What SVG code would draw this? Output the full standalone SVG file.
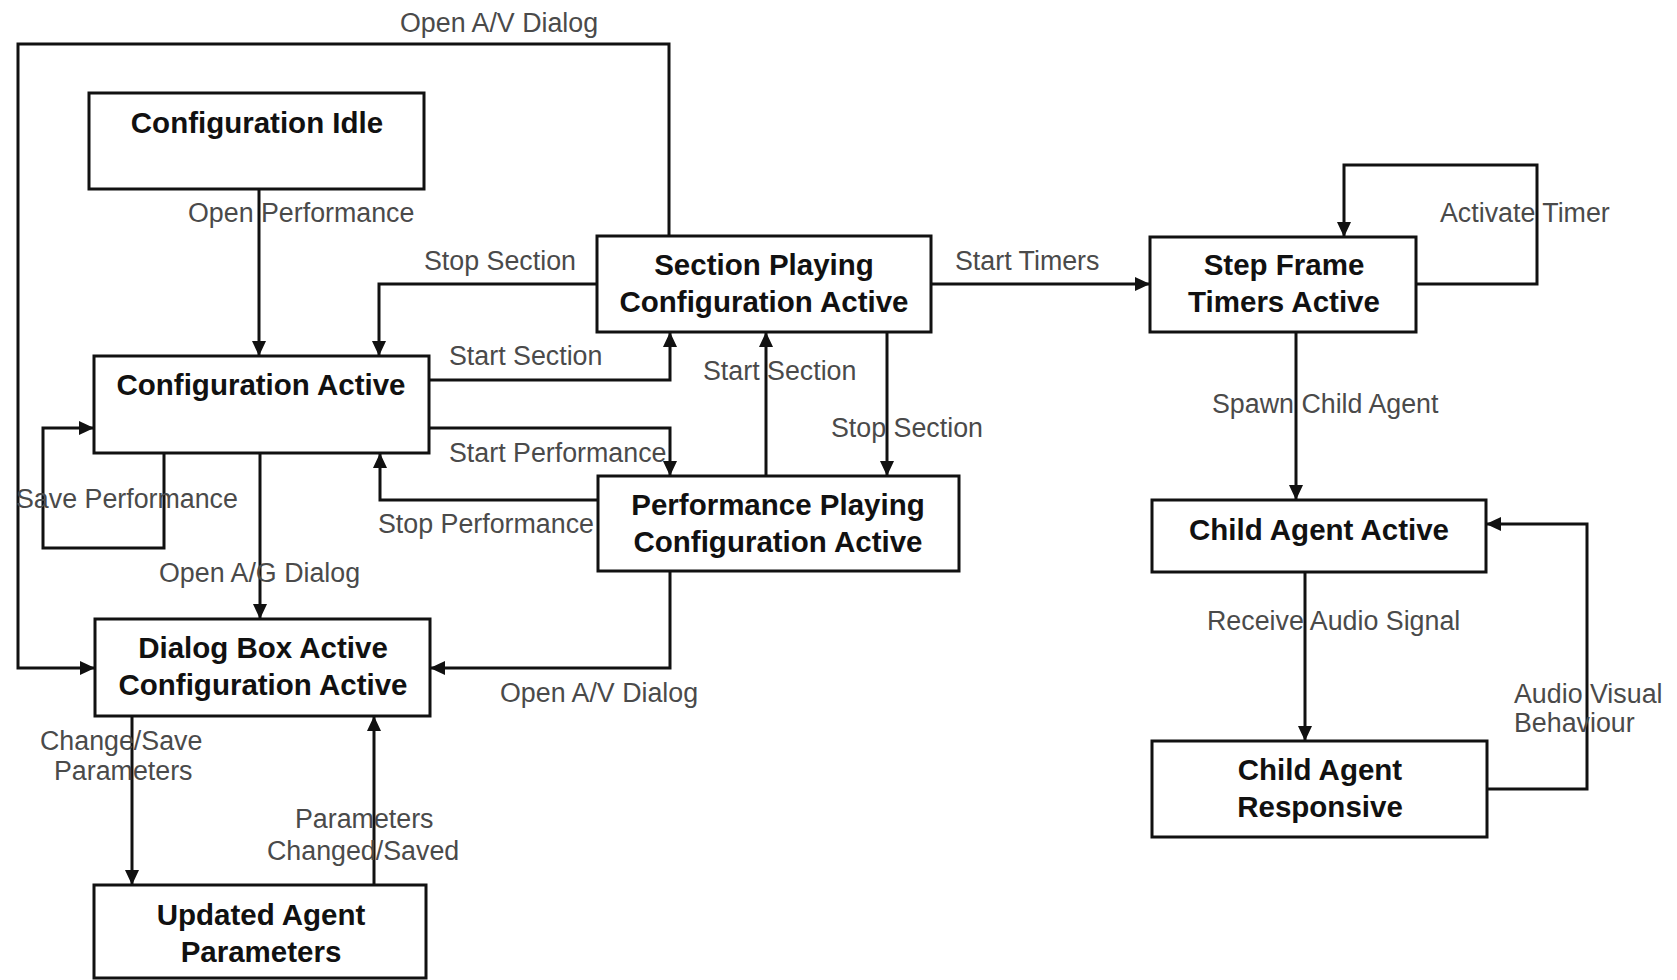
<svg xmlns="http://www.w3.org/2000/svg" width="1677" height="980" viewBox="0 0 1677 980">
<style>
.box{fill:#fff;stroke:#111;stroke-width:3}
.nt{font-family:"Liberation Sans",Arial,sans-serif;font-weight:bold;font-size:29.5px;fill:#111;text-anchor:middle}
.ln{fill:none;stroke:#111;stroke-width:3;marker-end:url(#ah)}
.lb{font-family:"Liberation Sans",Arial,sans-serif;font-size:26.8px;fill:#4a4a4a}
</style>
<defs>
<marker id="ah" markerUnits="userSpaceOnUse" markerWidth="16" markerHeight="14" refX="15" refY="7" orient="auto">
<path d="M0,0 L15,7 L0,14 z" fill="#111"/>
</marker>
</defs>
<rect width="1677" height="980" fill="#fff"/>
<g id="connectors">
<path class="ln" d="M259,189 V356"/>
<path class="ln" d="M597,284 H379 V356"/>
<path class="ln" d="M429,380 H670 V332"/>
<path class="ln" d="M429,428 H670 V476"/>
<path class="ln" d="M598,500 H380 V453"/>
<path class="ln" d="M164,453 V548 H43 V428 H94"/>
<path class="ln" d="M260,453 V619"/>
<path class="ln" d="M669,236 V44 H18 V668 H95"/>
<path class="ln" d="M670,571 V668 H430"/>
<path class="ln" d="M766,476 V332"/>
<path class="ln" d="M887,332 V476"/>
<path class="ln" d="M132,716 V885"/>
<path class="ln" d="M374,885 V716"/>
<path class="ln" d="M931,284 H1150"/>
<path class="ln" d="M1416,284 H1537 V165 H1344 V237"/>
<path class="ln" d="M1296,332 V500"/>
<path class="ln" d="M1305,572 V741"/>
<path class="ln" d="M1487,789 H1587 V524 H1486"/>
<g id="labels">
<text class="lb" x="400" y="32">Open A/V Dialog</text>
<text class="lb" x="188" y="222">Open Performance</text>
<text class="lb" x="424" y="270">Stop Section</text>
<text class="lb" x="449" y="365">Start Section</text>
<text class="lb" x="449" y="462">Start Performance</text>
<text class="lb" x="378" y="533">Stop Performance</text>
<text class="lb" x="16" y="508">Save Performance</text>
<text class="lb" x="159" y="582">Open A/G Dialog</text>
<text class="lb" x="500" y="702">Open A/V Dialog</text>
<text class="lb" x="703" y="380">Start Section</text>
<text class="lb" x="831" y="437">Stop Section</text>
<text class="lb" x="40" y="750">Change/Save</text>
<text class="lb" x="54" y="780">Parameters</text>
<text class="lb" x="295" y="828">Parameters</text>
<text class="lb" x="267" y="860">Changed/Saved</text>
<text class="lb" x="955" y="270">Start Timers</text>
<text class="lb" x="1440" y="222">Activate Timer</text>
<text class="lb" x="1212" y="413">Spawn Child Agent</text>
<text class="lb" x="1207" y="630">Receive Audio Signal</text>
<text class="lb" x="1514" y="703">Audio Visual</text>
<text class="lb" x="1514" y="732">Behaviour</text>
</g>
</g>
<g id="config-idle"><rect class="box" x="89" y="93" width="335" height="96"/><text class="nt" x="257" y="133">Configuration Idle</text></g>
<g id="config-active"><rect class="box" x="94" y="356" width="335" height="97"/><text class="nt" x="261" y="395">Configuration Active</text></g>
<g id="section-playing"><rect class="box" x="597" y="236" width="334" height="96"/><text class="nt" x="764" y="275">Section Playing</text><text class="nt" x="764" y="312">Configuration Active</text></g>
<g id="performance-playing"><rect class="box" x="598" y="476" width="361" height="95"/><text class="nt" x="778" y="515">Performance Playing</text><text class="nt" x="778" y="552">Configuration Active</text></g>
<g id="dialog-box-active"><rect class="box" x="95" y="619" width="335" height="97"/><text class="nt" x="263" y="658">Dialog Box Active</text><text class="nt" x="263" y="695">Configuration Active</text></g>
<g id="updated-agent"><rect class="box" x="94" y="885" width="332" height="93"/><text class="nt" x="261" y="925">Updated Agent</text><text class="nt" x="261" y="962">Parameters</text></g>
<g id="step-frame"><rect class="box" x="1150" y="237" width="266" height="95"/><text class="nt" x="1284" y="275">Step Frame</text><text class="nt" x="1284" y="312">Timers Active</text></g>
<g id="child-agent-active"><rect class="box" x="1152" y="500" width="334" height="72"/><text class="nt" x="1319" y="540">Child Agent Active</text></g>
<g id="child-agent-responsive"><rect class="box" x="1152" y="741" width="335" height="96"/><text class="nt" x="1320" y="780">Child Agent</text><text class="nt" x="1320" y="817">Responsive</text></g>
</svg>
